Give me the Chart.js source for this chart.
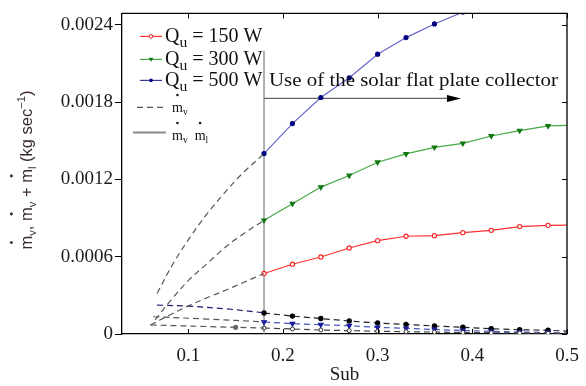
<!DOCTYPE html>
<html>
<head>
<meta charset="utf-8">
<script src="https://cdn.jsdelivr.net/npm/chart.js@4.4.0/dist/chart.umd.min.js"></script>
<style>
  html, body { margin: 0; padding: 0; background: #fff; }
</style>
</head>
<body>
<canvas id="chart" width="586" height="386"></canvas>
<script>
// Sub along the solar flat plate collector
const subCollector = [0.18, 0.21, 0.24, 0.27, 0.30, 0.33, 0.36, 0.39, 0.42, 0.45, 0.48, 0.50];

// total mass flow m_v + m_l (kg/s)
const total150 = [0.000470, 0.000542, 0.000598, 0.000668, 0.000725, 0.000759, 0.000764, 0.000787, 0.000805, 0.000834, 0.000844, 0.000846];
const total300 = [0.000883, 0.001012, 0.001141, 0.001231, 0.001334, 0.001399, 0.001450, 0.001481, 0.001538, 0.001580, 0.001616, 0.001620];
const total500 = [0.001401, 0.001634, 0.001837, 0.001990, 0.002173, 0.002302, 0.002408, 0.002500, 0.002590, 0.002660, 0.002720, 0.002750];

// vapour mass flow m_v (kg/s)
const vapour150 = [0.000046, 0.000039, 0.000031, 0.000026, 0.000021, 0.000018, 0.000015, 0.000012, 0.000010, 0.000008, 0.000006, 0.000005];
const vapour300 = [0.000093, 0.000080, 0.000072, 0.000064, 0.000052, 0.000044, 0.000035, 0.000027, 0.000021, 0.000015, 0.000012, 0.000008];
const vapour500 = [0.000163, 0.000139, 0.000120, 0.000101, 0.000085, 0.000075, 0.000062, 0.000052, 0.000041, 0.000033, 0.000029, 0.000023];

// before the collector (dashed extrapolation)
const subPre150 = [0.060, 0.080, 0.100, 0.120, 0.140, 0.160, 0.180];
const prTotal150 = [0.000070, 0.000146, 0.000218, 0.000282, 0.000342, 0.000406, 0.000470];
const subPre300 = [0.065, 0.083, 0.101, 0.119, 0.137, 0.155, 0.180];
const prTotal300 = [0.000110, 0.000275, 0.000422, 0.000541, 0.000661, 0.000762, 0.000883];
const subPre500 = [0.067, 0.084, 0.102, 0.120, 0.137, 0.155, 0.180];
const prTotal500 = [0.000315, 0.000547, 0.000753, 0.000935, 0.001085, 0.001231, 0.001401];

const subPreV150 = [0.060, 0.150, 0.180];
const prVapour150 = [0.000070, 0.000052, 0.000046];
const subPreV300 = [0.063, 0.120, 0.180];
const prVapour300 = [0.000134, 0.000116, 0.000095];
const subPreV500 = [0.067, 0.100, 0.140, 0.180];
const prVapour500 = [0.000225, 0.000216, 0.000195, 0.000165];

const xTicks = [0.1, 0.2, 0.3, 0.4, 0.5];
const yTicks = [0, 0.0006, 0.0012, 0.0018, 0.0024];

// annotation (data units)
const collectorStart = 0.18;
const arrowEnd = 0.388;
const arrowLevel = 0.00183;
const guideTop = 0.0022;

const SERIF = '"Liberation Serif", "Times New Roman", serif';
const SANS = '"Liberation Sans", Arial, sans-serif';

const pts = (xs, ys) => xs.map((x, i) => ({ x: x, y: ys[i] }));
// no marker on the last (0.5) point
const radii = (r) => subCollector.map((x, i) => (i === subCollector.length - 1 ? 0 : r));

const line = (xs, ys, opts) => Object.assign({
  data: pts(xs, ys),
  showLine: true,
  borderWidth: 1.2,
  pointRadius: 0,
  pointHoverRadius: 0,
}, opts);

const dashedGrey = { borderColor: '#555555', borderDash: [6, 4], tension: 0.35 };

const datasets = [
  line(subPre150, prTotal150, dashedGrey),
  line(subPre300, prTotal300, dashedGrey),
  line(subPre500, prTotal500, dashedGrey),
  line(subPreV150, prVapour150, Object.assign({}, dashedGrey, {
    pointRadius: [0, 2, 0], pointBackgroundColor: '#666', pointBorderColor: '#666'
  })),
  line(subPreV300, prVapour300, dashedGrey),
  line(subPreV500, prVapour500, { borderColor: '#1c1c70', borderDash: [6, 4], tension: 0.35 }),
  line(subCollector, vapour150, {
    borderColor: '#444', borderDash: [6, 4],
    pointRadius: radii(2), pointStyle: 'circle', pointBackgroundColor: '#fff', pointBorderColor: '#333', pointBorderWidth: 1
  }),
  line(subCollector, vapour300, {
    borderColor: '#4455bb', borderDash: [6, 4],
    pointRadius: radii(2.6), pointStyle: 'triangle', rotation: 180, pointBackgroundColor: '#1a1aa0', pointBorderColor: '#1a1aa0'
  }),
  line(subCollector, vapour500, {
    borderColor: '#222', borderDash: [6, 4],
    pointRadius: radii(2.1), pointStyle: 'circle', pointBackgroundColor: '#000', pointBorderColor: '#000'
  }),
  line(subCollector, total150, {
    borderColor: '#ff3030',
    pointRadius: radii(2.1), pointBackgroundColor: '#fff', pointBorderColor: '#ff2020', pointBorderWidth: 1.1
  }),
  line(subCollector, total300, {
    borderColor: '#44aa44',
    pointRadius: radii(2.6), pointStyle: 'triangle', rotation: 180, pointBackgroundColor: '#117711', pointBorderColor: '#117711'
  }),
  line(subCollector, total500, {
    borderColor: '#6666cc',
    pointRadius: radii(2), pointBackgroundColor: '#000080', pointBorderColor: '#000080'
  }),
];

// draw text made of pieces (subscripts, superscripts, dotted m)
function drawPieces(ctx, pieces, x, y, size, family, subScale) {
  const ss = subScale || 0.68;
  let cx = x;
  pieces.forEach(p => {
    let fs = size, dy = 0;
    if (p.sub) { fs = size * ss; dy = size * 0.22; }
    if (p.sup) { fs = size * ss; dy = -size * 0.42; }
    ctx.font = fs + 'px ' + family;
    ctx.fillText(p.t, cx, y + dy);
    const w = ctx.measureText(p.t).width;
    if (p.dot) {
      ctx.beginPath();
      ctx.arc(cx + w / 2, y - size * 1.25, size * 0.09, 0, Math.PI * 2);
      ctx.fill();
    }
    cx += w;
  });
  return cx - x;
}

function measurePieces(ctx, pieces, size, family) {
  let w = 0;
  pieces.forEach(p => {
    const fs = (p.sub || p.sup) ? size * 0.68 : size;
    ctx.font = fs + 'px ' + family;
    w += ctx.measureText(p.t).width;
  });
  return w;
}

function marker(ctx, kind, x, y, color) {
  ctx.save();
  ctx.fillStyle = color;
  ctx.strokeStyle = color;
  ctx.lineWidth = 1;
  ctx.beginPath();
  if (kind === 'open') {
    ctx.arc(x, y, 1.8, 0, Math.PI * 2);
    ctx.fillStyle = '#fff';
    ctx.fill();
    ctx.stroke();
  } else if (kind === 'tri') {
    ctx.moveTo(x - 2.4, y - 1.6);
    ctx.lineTo(x + 2.4, y - 1.6);
    ctx.lineTo(x, y + 2.4);
    ctx.closePath();
    ctx.fill();
  } else {
    ctx.arc(x, y, 1.8, 0, Math.PI * 2);
    ctx.fill();
  }
  ctx.restore();
}

const decor = {
  id: 'decor',
  beforeDatasetsDraw(chart) {
    const { ctx, scales: { x, y } } = chart;
    const gx = x.getPixelForValue(collectorStart);
    const ay = y.getPixelForValue(arrowLevel);
    const ex = x.getPixelForValue(arrowEnd);
    ctx.save();
    ctx.strokeStyle = '#888';
    ctx.lineWidth = 1.3;
    ctx.beginPath();
    ctx.moveTo(gx, y.getPixelForValue(0));
    ctx.lineTo(gx, y.getPixelForValue(guideTop));
    ctx.stroke();
    ctx.strokeStyle = '#666';
    ctx.beginPath();
    ctx.moveTo(gx, ay);
    ctx.lineTo(ex - 10, ay);
    ctx.stroke();
    ctx.fillStyle = '#000';
    ctx.beginPath();
    ctx.moveTo(ex, ay);
    ctx.lineTo(ex - 14, ay - 3.5);
    ctx.lineTo(ex - 14, ay + 3.5);
    ctx.closePath();
    ctx.fill();
    ctx.restore();
  },
  afterDraw(chart) {
    const { ctx, chartArea: a, scales: { x, y } } = chart;
    ctx.save();

    // frame: top and right border, inward ticks
    ctx.strokeStyle = '#000';
    ctx.lineWidth = 1.3;
    ctx.beginPath();
    ctx.moveTo(a.left, a.top);
    ctx.lineTo(a.right, a.top);
    ctx.lineTo(a.right, a.bottom);
    ctx.stroke();
    ctx.lineWidth = 1;
    ctx.beginPath();
    xTicks.forEach(v => {
      const px = Math.round(x.getPixelForValue(v)) + 0.5;
      ctx.moveTo(px, a.bottom);
      ctx.lineTo(px, a.bottom - 5);
      ctx.moveTo(px, a.top);
      ctx.lineTo(px, a.top + 5);
    });
    yTicks.forEach(v => {
      const py = Math.round(y.getPixelForValue(v)) + 0.5;
      ctx.moveTo(a.right, py);
      ctx.lineTo(a.right - 5, py);
    });
    ctx.stroke();

    // annotation text, slightly widened like the original
    ctx.fillStyle = '#111';
    ctx.textBaseline = 'alphabetic';
    ctx.textAlign = 'left';
    ctx.font = '19px ' + SERIF;
    ctx.save();
    ctx.translate(x.getPixelForValue(collectorStart) + 5, a.top + 73);
    ctx.scale(1.1, 1);
    ctx.fillText('Use of the solar flat plate collector', 0, 0);
    ctx.restore();

    // legend
    const rows = [
      { y: a.top + 23, color: '#ff3030', mk: 'open', mc: '#ff2020', label: '150 W' },
      { y: a.top + 46, color: '#44aa44', mk: 'tri', mc: '#117711', label: '300 W' },
      { y: a.top + 67, color: '#3a3a9a', mk: 'dot', mc: '#000080', label: '500 W' },
    ];
    rows.forEach(r => {
      ctx.strokeStyle = r.color;
      ctx.lineWidth = 1.2;
      ctx.beginPath();
      ctx.moveTo(a.left + 18, r.y);
      ctx.lineTo(a.left + 40, r.y);
      ctx.stroke();
      marker(ctx, r.mk, a.left + 29, r.y, r.mc);
      ctx.fillStyle = '#111';
      drawPieces(ctx, [{ t: 'Q' }, { t: 'u', sub: true }, { t: ' = ' + r.label }], a.left + 43, r.y + 6, 20, SERIF, 0.78);
    });

    ctx.strokeStyle = '#555';
    ctx.lineWidth = 1.2;
    ctx.setLineDash([6, 4]);
    ctx.beginPath();
    ctx.moveTo(a.left + 15, a.top + 94);
    ctx.lineTo(a.left + 42, a.top + 94);
    ctx.stroke();
    ctx.setLineDash([]);
    ctx.strokeStyle = '#888';
    ctx.lineWidth = 2;
    ctx.beginPath();
    ctx.moveTo(a.left + 11, a.top + 119);
    ctx.lineTo(a.left + 44, a.top + 119);
    ctx.stroke();
    ctx.fillStyle = '#111';
    drawPieces(ctx, [{ t: 'm', dot: true }, { t: 'v', sub: true }], a.left + 50, a.top + 99, 14, SERIF);
    drawPieces(ctx, [{ t: 'm', dot: true }, { t: 'v', sub: true }, { t: '  ' }, { t: 'm', dot: true }, { t: 'l', sub: true }], a.left + 50, a.top + 127, 14, SERIF);

    // y-axis title
    const yTitle = [
      { t: 'm', dot: true }, { t: 'v', sub: true }, { t: ', ' },
      { t: 'm', dot: true }, { t: 'v', sub: true }, { t: ' + ' },
      { t: 'm', dot: true }, { t: 'l', sub: true }, { t: ' (kg sec' }, { t: '\u22121', sup: true }, { t: ')' },
    ];
    const w = measurePieces(ctx, yTitle, 16.5, SANS);
    ctx.translate(27, 170);
    ctx.rotate(-Math.PI / 2);
    ctx.fillStyle = '#3a2a2a';
    drawPieces(ctx, yTitle, -w / 2, 5, 16.5, SANS);

    ctx.restore();
  }
};

new Chart(document.getElementById('chart'), {
  type: 'scatter',
  data: { datasets: datasets },
  options: {
    responsive: false,
    animation: false,
    devicePixelRatio: 1,
    layout: { padding: { left: 0, right: 19, top: 12, bottom: 0 } },
    plugins: { legend: { display: false }, tooltip: { enabled: false } },
    scales: {
      x: {
        type: 'linear',
        min: 0.03,
        max: 0.5,
        afterBuildTicks: (s) => { s.ticks = xTicks.map(v => ({ value: v })); },
        afterFit: (s) => { s.height = 52; },
        grid: { display: false },
        border: { display: true, color: '#000', width: 1.3 },
        ticks: {
          padding: 3,
          color: '#1a1a1a',
          font: { family: SERIF, size: 19 },
          callback: (v) => Number(v).toFixed(1),
        },
        title: {
          display: true,
          text: 'Sub',
          color: '#1a1a1a',
          font: { family: SERIF, size: 19 },
          padding: { top: 0, bottom: 0 },
        },
      },
      y: {
        min: 0,
        max: 0.00249,
        afterBuildTicks: (s) => { s.ticks = yTicks.map(v => ({ value: v })); },
        afterFit: (s) => { s.width = 122; },
        grid: { drawOnChartArea: false, drawTicks: true, tickLength: 7, color: '#000' },
        border: { display: true, color: '#000', width: 1.3 },
        ticks: {
          padding: 2,
          color: '#1a1a1a',
          font: { family: SERIF, size: 19 },
          callback: (v) => (v === 0 ? '0' : Number(v).toFixed(4)),
        },
      },
    },
  },
  plugins: [decor],
});
</script>
</body>
</html>
